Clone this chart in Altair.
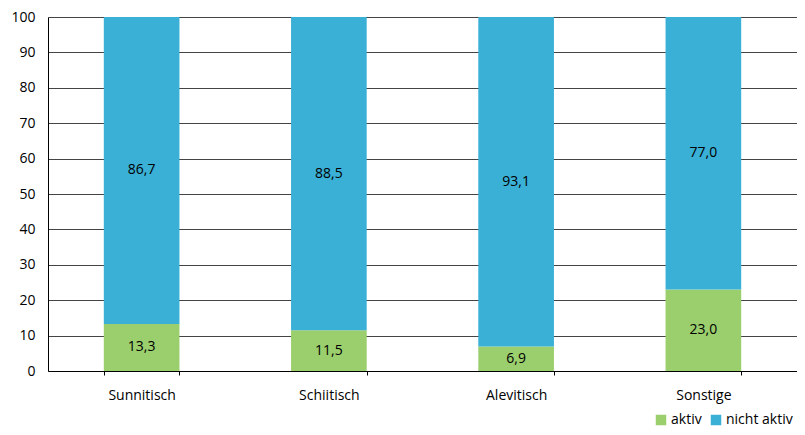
import altair as alt
import pandas as pd

categories = ["Sunnitisch", "Schiitisch", "Alevitisch", "Sonstige"]
aktiv = [13.3, 11.5, 6.9, 23.0]
nicht_aktiv = [86.7, 88.5, 93.1, 77.0]
series = ["aktiv", "nicht aktiv"]
colors = ["#9BCF6E", "#3AB0D6"]
y_ticks = [0, 10, 20, 30, 40, 50, 60, 70, 80, 90, 100]

rows = []
for c, a, n in zip(categories, aktiv, nicht_aktiv):
    rows.append({"cat": c, "series": "aktiv", "value": a, "order": 0,
                 "label": f"{a:.1f}".replace(".", ",")})
    rows.append({"cat": c, "series": "nicht aktiv", "value": n, "order": 1,
                 "label": f"{n:.1f}".replace(".", ",")})
df = pd.DataFrame(rows)

font = "Open Sans"

x_scale = alt.Scale(paddingInner=0.596, paddingOuter=0.298)
x_axis = alt.Axis(labelAngle=0, tickBand="extent", domainColor="#000000",
                  tickColor="#000000", tickSize=4, labelPadding=13,
                  labelFontSize=14, labelColor="#000000", labelFont=font, grid=False)
y_scale = alt.Scale(domain=[0, 100], nice=False)
y_axis = alt.Axis(values=y_ticks, tickSize=0, labelPadding=13, labelOverlap=False,
                  domainColor="#000000", gridColor="#444444", gridOpacity=1,
                  gridWidth=1.2,
                  labelFontSize=14, labelColor="#000000", labelFont=font)

bars = alt.Chart(df).mark_bar().encode(
    x=alt.X("cat:N", sort=categories, title=None, scale=x_scale, axis=x_axis),
    y=alt.Y("value:Q", stack="zero", title=None, scale=y_scale, axis=y_axis),
    color=alt.Color("series:N", scale=alt.Scale(domain=series, range=colors),
                    legend=alt.Legend(title=None, orient="none", direction="horizontal",
                                      legendX=606, legendY=396, symbolType="square",
                                      symbolSize=110, symbolStrokeWidth=0, symbolOpacity=1,
                                      labelFontSize=14, labelFont=font, labelColor="#000000",
                                      columnPadding=7, labelOffset=3)),
    order=alt.Order("order:Q"),
)

text = alt.Chart(df).mark_text(fontSize=14, font=font, color="#000000").encode(
    x=alt.X("cat:N", sort=categories, title=None, scale=x_scale, axis=x_axis),
    y=alt.Y("value:Q", stack="zero", bandPosition=0.5, title=None, scale=y_scale, axis=y_axis),
    detail="series:N",
    text="label:N",
    order=alt.Order("order:Q"),
)

chart = alt.layer(bars, text).properties(
    width=749, height=354,
    autosize=alt.AutoSizeParams(type="none"),
    padding={"left": 40, "top": 9, "right": 0, "bottom": 56},
).configure_view(stroke=None)

chart.save("out.html", embed_options={"renderer": "svg", "actions": False})
